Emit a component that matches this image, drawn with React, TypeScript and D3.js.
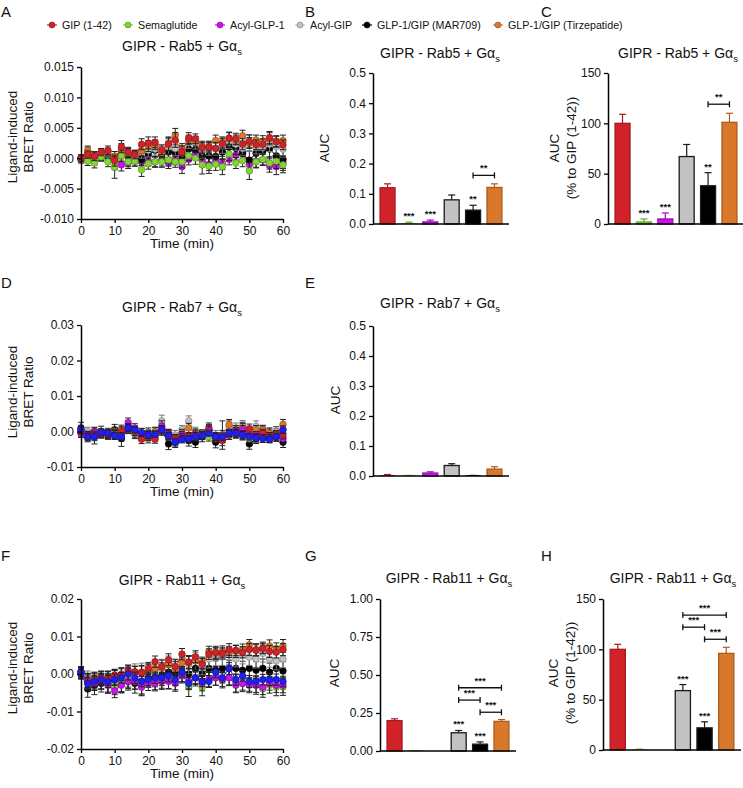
import React, { useEffect, useRef } from 'react';
import * as d3 from 'd3';

const FONT = "'Liberation Sans', Arial, Helvetica, sans-serif";

const names = ['GIP (1-42)', 'Semaglutide', 'Acyl-GLP-1', 'Acyl-GIP', 'GLP-1/GIP (MAR709)', 'GLP-1/GIP (Tirzepatide)'];
const colors = ['#d1222a', '#82d631', '#cc12ec', '#c2c2c2', '#000000', '#d9782a'];
const blue = '#1f1ff0';

const times = [0, 2, 4, 6, 8, 10, 12, 14, 16, 18, 20, 22, 24, 26, 28, 30, 32, 34, 36, 38, 40, 42, 44, 46, 48, 50, 52, 54, 56, 58, 60];
const timeTicks = [0, 10, 20, 30, 40, 50, 60];

// BRET ratio values in units of 1e-3
const rab5Gip = [0.0, 0.6, 0.3, 1.0, 1.3, -0.4, 1.9, 1.0, 0.6, 2.3, 2.5, 2.6, 1.4, 2.4, 3.0, 1.0, 3.3, 3.2, 1.7, 1.8, 1.6, 2.4, 3.3, 3.2, 2.3, 2.8, 2.2, 2.3, 3.4, 2.7, 2.2];
const rab5Sema = [0.0, -0.5, -0.8, 0.2, -0.6, -1.5, 0.4, -0.6, -0.5, -1.9, -0.9, -0.6, -0.6, -0.3, -0.6, -0.6, 0.4, 0.0, -1.1, -1.3, -1.0, -1.4, 0.7, -0.8, -0.4, -2.1, -0.6, -0.2, -0.8, -0.5, -1.1];
const rab5AcylGlp1 = [0.0, -0.2, 0.1, 0.2, 0.3, -0.2, -1.1, -0.8, -0.5, -0.6, -0.5, -0.6, -0.3, -0.8, -0.3, -1.4, -0.2, 0.8, -0.4, -1.0, -0.3, -0.8, -0.2, 0.5, 0.9, -1.1, -0.5, -0.3, -1.2, -1.4, -0.8];
const rab5AcylGip = [0.0, 0.3, -0.3, 0.4, 0.5, -0.5, 1.0, 0.7, 0.3, 1.0, 1.3, 1.5, 1.0, 1.8, 1.6, 0.8, 2.6, 2.5, 1.2, 1.6, 1.5, 2.0, 2.6, 2.3, 1.6, 2.5, 1.8, 1.7, 2.3, 1.9, 1.5];
const rab5Mar709 = [-0.2, 0.8, 0.3, 0.5, 0.2, -0.4, 0.6, 0.5, 0.2, -0.2, 0.6, 1.3, 0.5, 1.0, 0.9, 0.2, 1.5, 1.4, 0.3, 0.4, 0.3, 1.0, 1.8, 1.6, 0.7, -0.3, 0.8, 1.2, 1.5, 0.4, -0.2];
const rab5Tirz = [0.0, 1.3, 0.5, 0.8, 1.0, 0.3, 1.5, 0.8, 0.6, 1.2, 2.0, 2.2, 0.8, 2.2, 3.8, 1.5, 3.0, 2.8, 1.9, 2.0, 2.9, 2.6, 3.2, 3.0, 3.7, 2.5, 3.0, 2.8, 3.2, 2.8, 2.9];

const rab5GipErr = [0.5, 0.6, 0.7, 0.6, 0.7, 0.9, 1.0, 0.8, 0.7, 0.9, 1.0, 0.9, 0.8, 1.1, 1.2, 1.0, 0.9, 0.8, 0.9, 0.8, 1.0, 0.9, 1.0, 0.9, 0.9, 1.0, 0.8, 0.9, 1.0, 0.9, 0.8];
const rab5SemaErr = [0.5, 0.7, 0.8, 0.6, 0.8, 1.8, 0.9, 0.8, 0.8, 1.1, 0.9, 0.8, 0.9, 1.0, 0.9, 1.0, 0.8, 1.0, 1.5, 1.2, 1.0, 1.3, 1.1, 0.9, 1.0, 1.4, 1.0, 0.9, 1.0, 1.2, 1.3];
const rab5AcylGlp1Err = [0.5, 0.6, 0.6, 0.7, 0.6, 0.9, 1.0, 0.9, 0.8, 0.9, 0.8, 0.9, 1.0, 0.9, 0.8, 1.1, 0.9, 0.9, 1.0, 1.0, 0.9, 1.1, 0.9, 0.8, 0.9, 1.0, 1.0, 0.9, 1.1, 1.3, 1.2];
const rab5AcylGipErr = [0.6, 0.9, 0.8, 0.7, 0.8, 1.2, 1.0, 1.0, 0.9, 1.0, 1.1, 1.0, 1.0, 1.6, 1.2, 1.3, 1.0, 1.0, 1.2, 1.1, 1.0, 1.2, 1.0, 1.0, 1.2, 1.4, 1.1, 1.0, 1.2, 1.3, 1.4];
const rab5Mar709Err = [0.6, 1.0, 0.8, 0.7, 0.9, 1.5, 1.1, 1.0, 0.9, 1.0, 1.2, 1.1, 1.0, 1.8, 1.4, 1.2, 1.0, 1.2, 1.4, 1.3, 1.2, 1.2, 1.0, 1.0, 1.3, 1.5, 1.2, 1.1, 1.3, 1.4, 1.5];
const rab5TirzErr = [0.5, 0.7, 0.6, 0.7, 0.6, 0.8, 0.9, 0.8, 0.7, 0.8, 0.9, 0.8, 0.9, 1.0, 1.1, 0.9, 0.8, 0.8, 0.9, 0.8, 0.9, 0.9, 1.0, 0.8, 0.9, 0.9, 0.8, 0.9, 1.0, 0.9, 0.9];

const rab7Gip = [0.5, -1.2, -1.0, -0.5, -0.8, -1.0, 0.0, 1.0, 0.0, -2.2, -1.5, -2.2, 0.3, -1.0, -2.0, -1.8, -1.5, -1.5, -1.0, 0.3, -2.0, -2.5, -1.0, -0.5, -1.2, 0.8, -1.8, -0.5, -2.0, -0.8, -0.8];
const rab7Sema = [0.0, -1.0, -0.5, -0.5, -1.0, -0.5, -1.0, 0.5, -0.5, -1.5, -2.0, -1.5, 0.5, -1.5, -2.5, -1.5, -2.0, -1.5, -0.5, -1.5, -1.5, -2.0, -1.0, -0.5, -1.0, -2.0, -1.5, -2.0, -1.5, -1.0, -1.5];
const rab7AcylGlp1 = [-0.5, -1.0, -0.2, -0.8, -0.8, -1.0, -1.0, 2.5, 1.0, -1.5, -0.8, -1.0, 1.5, -0.5, -2.5, -1.0, -1.5, -1.0, -1.0, 1.0, -1.5, -2.0, -0.5, 0.0, 0.5, -0.5, -1.0, -1.0, -1.5, -1.5, -2.0];
const rab7AcylGip = [0.0, 0.0, -1.0, -0.5, -0.8, -0.5, -0.5, 1.5, 0.3, -1.0, -0.5, -0.2, 3.0, -1.0, -1.0, 0.5, 3.0, 0.0, -1.0, 0.5, -1.0, -1.5, 1.5, 1.0, 1.5, 0.0, 1.5, 0.5, -1.0, 0.0, 0.5];
const rab7Mar709 = [1.0, -1.5, -1.5, 0.0, -0.5, 0.5, -2.0, 1.0, -0.5, -0.5, -0.5, -0.5, 0.5, -3.5, -3.0, -1.0, -2.5, -3.0, -1.5, 0.5, -3.0, -1.0, 0.5, -0.5, 1.0, -3.5, -2.0, 0.0, -0.5, 0.0, -3.0];
const rab7Tirz = [-0.5, -1.5, 0.0, -0.5, -1.0, 0.0, 0.5, 1.5, 0.5, -1.0, -1.0, 0.0, 1.0, -0.5, -2.0, -0.5, 1.0, -0.5, -1.0, 0.0, -1.5, -1.0, 2.0, 0.5, 1.0, -1.0, 0.5, 0.5, -0.5, -1.0, 2.0];
const rab7Blue = [0.5, -1.5, -1.5, -0.2, -0.5, -1.2, -1.5, 1.0, 0.5, -0.3, -1.0, -0.8, 0.5, -1.2, -3.0, -2.2, -2.0, -1.5, -1.2, -0.5, -1.5, -1.5, -0.5, -0.5, -1.0, -1.5, -1.8, -2.0, -2.2, -1.5, 0.5];

const rab7GipErr = [1.2, 1.0, 1.1, 1.0, 1.1, 1.2, 1.3, 1.2, 1.1, 1.2, 1.0, 1.1, 1.3, 1.2, 1.1, 1.2, 1.0, 1.2, 1.1, 1.3, 1.2, 1.5, 1.2, 1.1, 1.2, 1.3, 1.2, 1.1, 1.2, 1.1, 1.3];
const rab7SemaErr = [1.0, 1.1, 1.0, 1.2, 1.0, 1.1, 1.2, 1.0, 1.1, 1.0, 1.2, 1.1, 1.0, 1.1, 1.2, 1.0, 1.3, 1.1, 1.0, 1.2, 1.1, 1.0, 1.2, 1.1, 1.0, 1.2, 1.1, 1.0, 1.2, 1.1, 1.2];
const rab7AcylGlp1Err = [1.1, 1.0, 1.2, 1.1, 1.0, 1.2, 1.1, 1.3, 1.2, 1.1, 1.0, 1.2, 1.5, 1.1, 1.2, 1.0, 1.1, 1.2, 1.0, 1.4, 1.1, 1.2, 1.0, 1.1, 1.2, 1.1, 1.0, 1.2, 1.1, 1.3, 1.4];
const rab7AcylGipErr = [1.3, 1.2, 1.3, 1.2, 1.3, 1.4, 1.2, 1.6, 1.3, 1.2, 1.1, 1.3, 1.6, 1.2, 1.3, 1.2, 1.4, 1.2, 1.3, 1.2, 1.3, 1.2, 1.5, 1.4, 1.6, 1.2, 1.5, 1.3, 1.2, 1.3, 1.4];
const rab7Mar709Err = [1.6, 1.4, 2.0, 1.5, 1.4, 1.5, 2.2, 1.6, 1.5, 1.4, 1.5, 1.6, 1.5, 1.6, 1.5, 1.4, 1.6, 1.5, 1.4, 1.5, 1.6, 4.0, 1.5, 1.4, 1.6, 1.5, 1.4, 1.6, 1.5, 1.4, 1.5];
const rab7TirzErr = [1.2, 1.1, 1.2, 1.1, 1.2, 1.1, 1.3, 1.2, 1.1, 1.2, 1.1, 1.2, 1.3, 1.1, 1.2, 1.1, 1.3, 1.2, 1.1, 1.2, 1.1, 1.3, 1.4, 1.2, 1.3, 1.1, 1.2, 1.1, 1.2, 1.1, 1.4];
const rab7BlueErr = [1.0, 0.9, 1.1, 0.8, 1.0, 0.9, 1.2, 1.0, 0.9, 1.1, 1.0, 0.8, 1.0, 0.9, 1.1, 1.0, 0.9, 1.2, 1.0, 0.8, 1.0, 1.1, 0.9, 1.0, 1.2, 0.9, 1.0, 1.1, 0.9, 1.0, 1.1];

const rab11Gip = [0.5, -2.0, -1.5, -1.0, -1.2, -0.3, -0.2, 1.0, 0.6, 0.3, 1.5, 3.3, 2.0, 3.8, 2.0, 5.3, 3.2, 4.6, 2.6, 5.3, 5.8, 5.5, 6.5, 6.3, 5.8, 6.5, 6.3, 6.8, 6.0, 5.8, 6.5];
const rab11Sema = [0.0, -2.0, -2.0, -2.0, -2.5, -3.5, -2.5, -1.5, -2.0, -3.0, -1.5, -2.0, -2.0, -1.5, -2.0, 0.0, -3.5, -1.0, -3.5, -1.5, -1.0, -1.5, -1.0, -2.5, -2.5, -2.5, -3.0, -4.0, -3.0, -3.5, -3.5];
const rab11AcylGlp1 = [0.0, -2.5, -2.5, -2.0, -3.0, -4.5, -3.0, -2.0, -2.0, -3.5, -2.5, -2.5, -2.0, -2.0, -2.5, -0.5, -2.0, -1.0, -2.5, -1.5, -1.0, -1.5, -1.0, -3.0, -2.5, -3.0, -3.0, -3.5, -2.5, -3.0, -3.0];
const rab11AcylGip = [0.0, -1.5, -2.0, -1.5, -1.5, -1.0, -0.5, 0.0, 0.5, 0.5, 0.5, 1.0, 1.5, 2.5, 1.5, 3.5, 2.5, 3.5, 2.0, 4.0, 4.5, 4.5, 5.0, 4.0, 5.0, 4.5, 4.0, 5.5, 4.0, 3.5, 4.0];
const rab11Mar709 = [0.5, -4.0, -3.0, -2.5, -2.5, -1.5, -2.5, -2.0, -2.5, -3.0, -1.0, -1.0, -0.5, 0.5, 0.0, 0.5, 0.0, 1.5, 0.0, 1.5, 1.0, 1.5, 1.5, 1.5, 1.0, 1.5, 1.0, 1.5, 0.5, 1.5, 0.8];
const rab11Tirz = [0.5, -1.8, -1.2, -1.0, -1.0, -0.5, 0.0, 0.5, 0.5, 0.5, 1.0, 1.5, 1.5, 2.5, 1.5, 3.0, 3.0, 3.5, 3.0, 6.0, 5.5, 6.0, 5.8, 6.0, 6.5, 7.8, 6.5, 7.0, 7.5, 6.8, 7.5];
const rab11Blue = [0.5, -2.5, -2.0, -1.5, -2.0, -1.5, -1.0, 0.0, -1.0, -2.0, -1.5, -1.0, -1.0, -0.5, -1.5, 0.5, -2.5, -1.0, -2.0, -2.0, 0.5, -1.0, 1.5, -1.5, -0.5, -2.0, -2.0, -1.5, -1.5, -1.5, -2.0];

const rab11GipErr = [1.2, 2.0, 1.8, 1.6, 1.8, 1.5, 1.6, 1.4, 1.5, 1.8, 1.6, 1.5, 1.7, 1.6, 1.8, 1.5, 1.7, 1.6, 1.5, 1.4, 1.6, 1.5, 1.6, 1.4, 1.5, 1.6, 1.5, 1.4, 1.6, 1.5, 1.6];
const rab11SemaErr = [1.3, 2.2, 2.0, 2.1, 2.3, 2.0, 2.2, 2.0, 2.1, 2.3, 2.0, 2.2, 2.1, 2.4, 2.2, 2.0, 2.5, 2.2, 2.3, 2.1, 2.0, 2.2, 2.1, 2.3, 2.2, 2.1, 2.4, 2.2, 2.1, 2.3, 2.2];
const rab11AcylGlp1Err = [1.2, 2.0, 1.9, 2.0, 2.1, 1.8, 2.0, 1.9, 2.0, 2.1, 1.9, 2.0, 1.8, 2.0, 2.1, 1.9, 2.0, 1.8, 2.0, 1.9, 2.0, 1.8, 1.9, 2.0, 1.8, 2.0, 1.9, 2.0, 1.8, 1.9, 2.0];
const rab11AcylGipErr = [1.4, 2.3, 2.2, 2.4, 2.2, 2.3, 2.1, 2.3, 2.2, 2.4, 2.3, 2.2, 2.4, 2.3, 2.5, 2.2, 2.4, 2.3, 2.2, 2.4, 2.3, 2.2, 2.4, 2.1, 2.3, 2.2, 2.4, 2.3, 2.2, 2.4, 2.3];
const rab11Mar709Err = [1.5, 2.2, 2.5, 2.3, 2.6, 2.4, 2.5, 2.3, 2.6, 2.8, 2.5, 2.4, 2.6, 2.7, 2.5, 2.6, 2.8, 2.5, 2.4, 2.3, 2.5, 2.4, 2.2, 2.5, 2.4, 2.6, 2.3, 2.5, 2.4, 2.6, 2.5];
const rab11TirzErr = [1.2, 1.8, 1.7, 1.6, 1.8, 1.5, 1.7, 1.6, 1.5, 1.8, 1.6, 1.7, 1.5, 1.6, 1.8, 1.5, 1.7, 1.6, 1.5, 1.4, 1.6, 1.5, 1.4, 1.6, 1.5, 1.4, 1.6, 1.5, 1.6, 1.5, 1.7];
const rab11BlueErr = [1.1, 1.6, 1.5, 1.4, 1.6, 1.5, 1.4, 1.6, 1.5, 1.4, 1.6, 1.5, 1.4, 1.6, 1.5, 1.3, 1.6, 1.5, 1.4, 1.6, 1.5, 1.4, 1.6, 1.5, 1.4, 1.6, 1.5, 1.4, 1.6, 1.5, 1.4];

// AUC bars, order = names
const rab5Auc = [0.120, 0.003, 0.007, 0.080, 0.046, 0.121];
const rab5AucErr = [0.013, 0.003, 0.006, 0.016, 0.016, 0.012];
const rab5AucStars = ['', '***', '***', '', '**', ''];
const rab5Pct = [100, 2, 5, 67, 38, 101];
const rab5PctErr = [9, 3, 6, 12, 13, 9];
const rab5PctStars = ['', '***', '***', '', '**', ''];
const rab7Auc = [0.003, 0.001, 0.010, 0.035, 0.001, 0.023];
const rab7AucErr = [0.002, 0.001, 0.004, 0.006, 0.001, 0.008];
const rab11Auc = [0.200, 0.002, 0, 0.120, 0.045, 0.195];
const rab11AucErr = [0.012, 0.001, 0, 0.015, 0.015, 0.012];
const rab11AucStars = ['', '', '', '***', '***', ''];
const rab11Pct = [100, 0.5, 0, 59, 22, 96];
const rab11PctErr = [5, 0.3, 0, 6, 6, 6];
const rab11PctStars = ['', '', '', '***', '***', ''];

const rab5AucBrackets = [{ a: 4, b: 5, y: 0.161, label: '**' }];
const rab5PctBrackets = [{ a: 4, b: 5, y: 119, label: '**' }];
const rab11AucBrackets = [{ a: 3, b: 5, y: 0.416, label: '***' }, { a: 3, b: 4, y: 0.335, label: '***' }, { a: 4, b: 5, y: 0.255, label: '***' }];
const rab11PctBrackets = [{ a: 3, b: 5, y: 134, label: '***' }, { a: 3, b: 4, y: 122, label: '***' }, { a: 4, b: 5, y: 110, label: '***' }];

const rab5Ticks = [-10, -5, 0, 5, 10, 15];
const rab7Ticks = [-10, 0, 10, 20, 30];
const rab11Ticks = [-20, -10, 0, 10, 20];
const aucTicks = [0, 0.1, 0.2, 0.3, 0.4, 0.5];
const auc11Ticks = [0, 0.25, 0.5, 0.75, 1.0];
const pctTicks = [0, 50, 100, 150];

const dark = (c: string, k = 1) => d3.color(c)!.darker(k).formatHex();

function title(root: any, x: number, y: number, rab: string) {
  const t = root.append('text').attr('x', x).attr('y', y).attr('text-anchor', 'middle')
    .attr('font-family', FONT).attr('font-size', 14).attr('fill', '#111');
  t.append('tspan').text(`GIPR - ${rab} + Gα`);
  t.append('tspan').attr('font-size', 9.5).attr('dy', 4).text('s');
}

function yLabel(root: any, lines: string[], xs: number[], cy: number) {
  lines.forEach((l, i) => {
    root.append('text').attr('transform', `translate(${xs[i]},${cy}) rotate(-90)`)
      .attr('text-anchor', 'middle').attr('dominant-baseline', 'central')
      .attr('font-family', FONT).attr('font-size', 13.5).attr('fill', '#111').text(l);
  });
}

function styleAxis(g: any) {
  g.attr('font-family', FONT).attr('font-size', 12);
  g.selectAll('text').attr('fill', '#111');
  g.select('.domain').attr('stroke', '#000').attr('stroke-width', 1.5);
  g.selectAll('.tick line').attr('stroke', '#000').attr('stroke-width', 1.3);
}

function drawTime(root: any, p: any) {
  const x = d3.scaleLinear().domain([0, 60]).range([p.x0, p.x1]);
  const y = d3.scaleLinear().domain(p.domain).range([p.yBot, p.yTop]);
  const line = d3.line<number>().x((d, i) => x(times[i])).y(d => y(d));
  p.series.forEach((s: any) => {
    const g = root.append('g');
    const pts = times.map((t, i) => ({ t, v: s.vals[i], e: s.errs[i] }));
    const ec = s.color === '#c2c2c2' ? '#777' : '#222';
    g.selectAll('.eb').data(pts).join('line')
      .attr('x1', (d: any) => x(d.t)).attr('x2', (d: any) => x(d.t))
      .attr('y1', (d: any) => y(d.v - d.e)).attr('y2', (d: any) => y(d.v + d.e))
      .attr('stroke', ec).attr('stroke-width', 1);
    [-1, 1].forEach(sg => {
      g.selectAll(null).data(pts).join('line')
        .attr('x1', (d: any) => x(d.t) - 3).attr('x2', (d: any) => x(d.t) + 3)
        .attr('y1', (d: any) => y(d.v + sg * d.e)).attr('y2', (d: any) => y(d.v + sg * d.e))
        .attr('stroke', ec).attr('stroke-width', 1);
    });
    g.append('path').datum(s.vals).attr('d', line).attr('fill', 'none')
      .attr('stroke', s.color).attr('stroke-width', 1);
    g.selectAll('circle').data(pts).join('circle')
      .attr('cx', (d: any) => x(d.t)).attr('cy', (d: any) => y(d.v)).attr('r', 3.3)
      .attr('fill', s.color).attr('stroke', s.color === '#000000' ? '#000' : dark(s.color, 1.3)).attr('stroke-width', 0.6);
  });
  const ya = root.append('g').attr('transform', `translate(${p.x0},0)`)
    .call(d3.axisLeft(y).tickValues(p.ticks).tickFormat((d: any) => (d / 1000).toFixed(p.digits)).tickSize(4).tickSizeOuter(0));
  styleAxis(ya);
  const xa = root.append('g').attr('transform', `translate(0,${p.yBot})`)
    .call(d3.axisBottom(x).tickValues(timeTicks).tickFormat((d: any) => String(d)).tickSize(4).tickSizeOuter(0));
  styleAxis(xa);
  root.append('text').attr('x', (p.x0 + p.x1) / 2).attr('y', p.yBot + 29).attr('text-anchor', 'middle')
    .attr('font-family', FONT).attr('font-size', 13.5).attr('fill', '#111').text('Time (min)');
}

function drawBars(root: any, p: any) {
  const x = d3.scaleBand().domain(names).range([p.x0, p.x0 + p.width]).paddingInner(0.3).paddingOuter(0.33);
  const y = d3.scaleLinear().domain([0, p.max]).range([p.yBot, p.yTop]);
  const bw = x.bandwidth();
  const cx = (i: number) => (x(names[i]) as number) + bw / 2;
  const strokeOf = (c: string) => (c === '#c2c2c2' || c === '#000000') ? '#1a1a1a' : dark(c, 0.7);
  const g = root.append('g');
  p.vals.forEach((v: number, i: number) => {
    const c = colors[i];
    const sc = strokeOf(c);
    const e = p.errs[i];
    if (e > 0) {
      g.append('line').attr('x1', cx(i)).attr('x2', cx(i)).attr('y1', y(v)).attr('y2', y(v + e))
        .attr('stroke', sc).attr('stroke-width', 1.2);
      g.append('line').attr('x1', cx(i) - 3.5).attr('x2', cx(i) + 3.5).attr('y1', y(v + e)).attr('y2', y(v + e))
        .attr('stroke', sc).attr('stroke-width', 1.2);
    }
    if (v > 0) {
      const h = Math.max(y(0) - y(v), 0.8);
      g.append('rect').attr('x', x(names[i])).attr('y', y(0) - h).attr('width', bw).attr('height', h)
        .attr('fill', c).attr('stroke', sc).attr('stroke-width', h > 2 ? 1.3 : 0);
    }
    const st = p.stars ? p.stars[i] : '';
    if (st) {
      g.append('text').attr('x', cx(i)).attr('y', y(v + e) - 3).attr('text-anchor', 'middle')
        .attr('font-family', FONT).attr('font-size', 9.5).attr('font-weight', 'bold').attr('fill', '#111').text(st);
    }
  });
  (p.brackets || []).forEach((b: any) => {
    const yy = y(b.y);
    const xa = cx(b.a), xb = cx(b.b);
    g.append('line').attr('x1', xa).attr('x2', xb).attr('y1', yy).attr('y2', yy).attr('stroke', '#111').attr('stroke-width', 1.3);
    [xa, xb].forEach(xx => g.append('line').attr('x1', xx).attr('x2', xx).attr('y1', yy - 3).attr('y2', yy + 3)
      .attr('stroke', '#111').attr('stroke-width', 1.3));
    g.append('text').attr('x', (xa + xb) / 2).attr('y', yy - 4).attr('text-anchor', 'middle')
      .attr('font-family', FONT).attr('font-size', 9.5).attr('font-weight', 'bold').attr('fill', '#111').text(b.label);
  });
  const ya = root.append('g').attr('transform', `translate(${p.x0},0)`)
    .call(d3.axisLeft(y).tickValues(p.ticks).tickFormat(p.fmt).tickSize(4).tickSizeOuter(0));
  styleAxis(ya);
  root.append('line').attr('x1', p.x0).attr('x2', p.x0 + p.width).attr('y1', p.yBot).attr('y2', p.yBot)
    .attr('stroke', '#000').attr('stroke-width', 1.5);
}

const App = () => {
  const ref = useRef<SVGSVGElement>(null);

  useEffect(() => {
    const svg = d3.select(ref.current);
    svg.selectAll('*').remove();
    svg.append('rect').attr('width', 743).attr('height', 788).attr('fill', '#fff');

    // panel letters
    const letters: [string, number, number][] = [['A', 1, 17], ['B', 305, 17], ['C', 541, 17], ['D', 1, 288], ['E', 305, 288], ['F', 1, 561], ['G', 305, 561], ['H', 541, 561]];
    letters.forEach(([l, x, y]) => svg.append('text').attr('x', x).attr('y', y).attr('font-family', FONT)
      .attr('font-size', 15).attr('fill', '#111').text(l));

    // legend
    const legX = [52, 128, 220, 300, 367, 498];
    names.forEach((n, i) => {
      const g = svg.append('g').attr('transform', `translate(${legX[i]},25)`);
      g.append('line').attr('x1', -5).attr('x2', 5).attr('stroke', colors[i]).attr('stroke-width', 1.2);
      g.append('circle').attr('r', 3).attr('fill', colors[i]).attr('stroke', dark(colors[i], 1.3)).attr('stroke-width', 0.6);
      g.append('text').attr('x', 10).attr('dy', '0.35em').attr('font-family', FONT).attr('font-size', 10.7)
        .attr('fill', '#111').text(n);
    });

    const rab5Series = [
      { vals: rab5AcylGlp1, errs: rab5AcylGlp1Err, color: colors[2] },
      { vals: rab5Mar709, errs: rab5Mar709Err, color: colors[4] },
      { vals: rab5AcylGip, errs: rab5AcylGipErr, color: colors[3] },
      { vals: rab5Tirz, errs: rab5TirzErr, color: colors[5] },
      { vals: rab5Sema, errs: rab5SemaErr, color: colors[1] },
      { vals: rab5Gip, errs: rab5GipErr, color: colors[0] },
    ];
    const rab7Series = [
      { vals: rab7Mar709, errs: rab7Mar709Err, color: colors[4] },
      { vals: rab7AcylGip, errs: rab7AcylGipErr, color: colors[3] },
      { vals: rab7Tirz, errs: rab7TirzErr, color: colors[5] },
      { vals: rab7Sema, errs: rab7SemaErr, color: colors[1] },
      { vals: rab7AcylGlp1, errs: rab7AcylGlp1Err, color: colors[2] },
      { vals: rab7Gip, errs: rab7GipErr, color: colors[0] },
      { vals: rab7Blue, errs: rab7BlueErr, color: blue },
    ];
    const rab11Series = [
      { vals: rab11Mar709, errs: rab11Mar709Err, color: colors[4] },
      { vals: rab11AcylGip, errs: rab11AcylGipErr, color: colors[3] },
      { vals: rab11Tirz, errs: rab11TirzErr, color: colors[5] },
      { vals: rab11Sema, errs: rab11SemaErr, color: colors[1] },
      { vals: rab11AcylGlp1, errs: rab11AcylGlp1Err, color: colors[2] },
      { vals: rab11Gip, errs: rab11GipErr, color: colors[0] },
      { vals: rab11Blue, errs: rab11BlueErr, color: blue },
    ];

    const brLabel = ['Ligand-induced', 'BRET Ratio'];
    const pctLabel = ['AUC', '(% to GIP (1-42))'];

    // row 1
    title(svg, 182, 51, 'Rab5');
    drawTime(svg, { x0: 81, x1: 283, yTop: 67, yBot: 219, domain: [-10, 15], ticks: rab5Ticks, digits: 3, series: rab5Series });
    yLabel(svg, brLabel, [12, 28], 137);

    title(svg, 440, 58, 'Rab5');
    drawBars(svg, { x0: 373, width: 136, yTop: 73, yBot: 224, max: 0.5, ticks: aucTicks, fmt: (d: any) => d.toFixed(1),
      vals: rab5Auc, errs: rab5AucErr, stars: rab5AucStars, brackets: rab5AucBrackets });
    yLabel(svg, ['AUC'], [324], 148);

    title(svg, 678, 58, 'Rab5');
    drawBars(svg, { x0: 608, width: 136, yTop: 73, yBot: 224, max: 150, ticks: pctTicks, fmt: (d: any) => String(d),
      vals: rab5Pct, errs: rab5PctErr, stars: rab5PctStars, brackets: rab5PctBrackets });
    yLabel(svg, pctLabel, [554, 571], 148);

    // row 2
    title(svg, 182, 312, 'Rab7');
    drawTime(svg, { x0: 81, x1: 283, yTop: 325, yBot: 467, domain: [-10, 30], ticks: rab7Ticks, digits: 2, series: rab7Series });
    yLabel(svg, brLabel, [12, 28], 392);

    title(svg, 440, 308, 'Rab7');
    drawBars(svg, { x0: 373, width: 136, yTop: 326, yBot: 476, max: 0.5, ticks: aucTicks, fmt: (d: any) => d.toFixed(1),
      vals: rab7Auc, errs: rab7AucErr });
    yLabel(svg, ['AUC'], [335], 400);

    // row 3
    title(svg, 182, 585, 'Rab11');
    drawTime(svg, { x0: 81, x1: 283, yTop: 599, yBot: 749, domain: [-20, 20], ticks: rab11Ticks, digits: 2, series: rab11Series });
    yLabel(svg, brLabel, [12, 28], 668);

    title(svg, 449, 583, 'Rab11');
    drawBars(svg, { x0: 380, width: 136, yTop: 599, yBot: 751, max: 1.0, ticks: auc11Ticks, fmt: (d: any) => d.toFixed(2),
      vals: rab11Auc, errs: rab11AucErr, stars: rab11AucStars, brackets: rab11AucBrackets });
    yLabel(svg, ['AUC'], [334], 673);

    title(svg, 673, 583, 'Rab11');
    drawBars(svg, { x0: 603, width: 138, yTop: 599, yBot: 750, max: 150, ticks: pctTicks, fmt: (d: any) => String(d),
      vals: rab11Pct, errs: rab11PctErr, stars: rab11PctStars, brackets: rab11PctBrackets });
    yLabel(svg, pctLabel, [553, 570], 673);
  }, []);

  return <svg ref={ref} width={743} height={788} style={{ position: 'absolute', left: 0, top: 0 }} />;
};

export default App;
